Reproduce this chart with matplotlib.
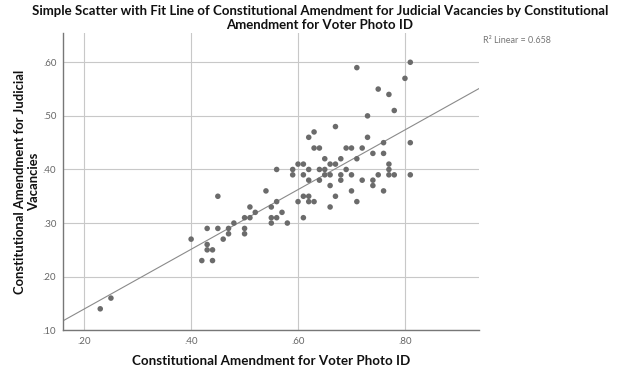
import matplotlib
matplotlib.use("Agg")
import matplotlib.pyplot as plt
import numpy as np

plt.rcParams['font.family'] = ['Lato', 'DejaVu Sans']

voter_id = [.23, .25, .40, .42, .44, .43, .44, .43, .43, .45,
            .45, .46, .47, .47, .48, .50, .50, .50, .51, .51,
            .52, .54, .55, .55, .56, .55, .56, .57, .58, .60,
            .61, .61, .62, .62, .63, .56, .59, .59, .60, .61,
            .61, .62, .62, .62, .63, .63, .64, .64, .65, .64,
            .65, .66, .65, .66, .67, .66, .67, .67, .66, .68,
            .68, .68, .69, .69, .70, .70, .70, .71, .71, .71,
            .72, .72, .73, .73, .74, .74, .74, .75, .75, .76,
            .76, .76, .77, .77, .77, .77, .78, .78, .80, .81,
            .81, .81]
judicial = [.14, .16, .27, .23, .23, .25, .25, .26, .29, .29,
            .35, .27, .28, .29, .30, .28, .29, .31, .31, .33,
            .32, .36, .30, .31, .31, .33, .34, .32, .30, .34,
            .31, .35, .35, .34, .34, .40, .40, .39, .41, .41,
            .39, .40, .38, .46, .47, .44, .44, .40, .40, .38,
            .39, .39, .42, .41, .41, .37, .35, .48, .33, .42,
            .39, .38, .40, .44, .44, .39, .36, .42, .34, .59,
            .44, .38, .46, .50, .43, .38, .37, .55, .39, .45,
            .43, .36, .54, .41, .40, .39, .51, .39, .57, .60,
            .45, .39]
x_ticks = [.20, .40, .60, .80]
y_ticks = [.10, .20, .30, .40, .50, .60]
r2_text = "R\u00b2 Linear = 0.658"

fig = plt.figure(figsize=(6.4, 3.77), dpi=100)
ax = fig.add_axes([0.099, 0.124, 0.649, 0.789])

x = np.array(voter_id)
y = np.array(judicial)
xmin, xmax = 0.161, 0.938
ymin, ymax = 0.10, 0.655

ax.set_axisbelow(True)
ax.grid(True, color='#c8c8c8', linewidth=0.8)
ax.scatter(x, y, s=16, color='#6b6b6b', edgecolors='none', zorder=3)

slope, intercept = np.polyfit(x, y, 1)
xs = np.array([xmin, xmax])
ax.plot(xs, intercept + slope * xs, color='#8a8a8a', linewidth=0.8, zorder=2)

ax.set_xlim(xmin, xmax)
ax.set_ylim(ymin, ymax)
ax.set_xticks(x_ticks)
ax.set_yticks(y_ticks)
ax.set_xticklabels([f"{t:.2f}".lstrip('0') for t in x_ticks])
ax.set_yticklabels([f"{t:.2f}".lstrip('0') for t in y_ticks])
ax.tick_params(axis='both', length=0, labelsize=7, colors='#666666', pad=5)

for s in ['top', 'right']:
    ax.spines[s].set_visible(False)
for s in ['left', 'bottom']:
    ax.spines[s].set_color('#777777')
    ax.spines[s].set_linewidth(1.0)

ax.set_xlabel("Constitutional Amendment for Voter Photo ID", fontsize=9.6,
              fontweight='bold', color='#111111', labelpad=6)
ax.set_ylabel("Constitutional Amendment for Judicial\nVacancies", fontsize=9.4,
              fontweight='bold', color='#111111', labelpad=2, linespacing=1.25)

fig.text(0.5, 0.988, "Simple Scatter with Fit Line of Constitutional Amendment for Judicial Vacancies by Constitutional\nAmendment for Voter Photo ID",
         ha='center', va='top', fontsize=9.5, fontweight='bold', color='#111111', linespacing=1.2)
fig.text(0.755, 0.893, r2_text, ha='left', va='center', fontsize=6.5, color='#777777')

fig.savefig("out.png", dpi=100)
